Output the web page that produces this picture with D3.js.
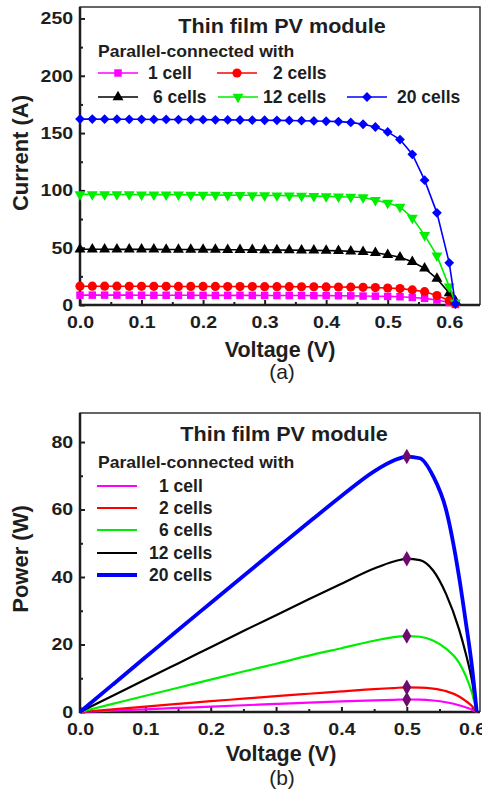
<!DOCTYPE html>
<html>
<head>
<meta charset="utf-8">
<script src="https://d3js.org/d3.v7.min.js"></script>
<style>
  html, body { margin: 0; padding: 0; background: #fff; }
  svg { display: block; font-family: "Liberation Sans", Arial, sans-serif; }
</style>
</head>
<body>
<svg width="482" height="796"></svg>
<script>
// ---- data ----
// (a) I-V curves, markers every 0.02 V
var voltA = [0.00,0.02,0.04,0.06,0.08,0.10,0.12,0.14,0.16,0.18,0.20,0.22,0.24,0.26,0.28,0.30,
             0.32,0.34,0.36,0.38,0.40,0.42,0.44,0.46,0.48,0.50,0.52,0.54,0.56,0.58,0.60,0.61];
var cur1  = [8.6,8.6,8.6,8.6,8.6,8.5,8.5,8.5,8.5,8.5,8.4,8.4,8.4,8.4,8.4,8.3,
             8.3,8.3,8.3,8.2,8.2,8.1,8.0,7.8,7.7,7.5,7.2,6.6,5.8,4.3,2.2,0.5];
var cur2  = [16.4,16.4,16.4,16.4,16.3,16.3,16.3,16.3,16.2,16.2,16.2,16.2,16.1,16.1,16.1,16.0,
             16.0,16.0,15.9,15.9,15.8,15.7,15.6,15.4,15.2,14.8,14.3,13.2,11.6,8.2,4.0,1.0];
var cur6  = [48.6,48.6,48.6,48.5,48.5,48.5,48.5,48.4,48.4,48.4,48.3,48.3,48.2,48.2,48.1,48.0,
             48.0,47.9,47.8,47.7,47.5,47.2,46.9,46.4,45.6,43.8,41.6,37.7,32.0,23.0,10.5,3.5];
var cur12 = [96.5,96.5,96.4,96.4,96.4,96.3,96.3,96.2,96.2,96.1,96.1,96.0,95.9,95.8,95.7,95.6,
             95.5,95.4,95.2,95.0,94.8,94.5,94.2,93.8,91.5,89.0,85.5,76.0,61.0,43.0,16.0,2.0];
var cur20 = [162.2,162.2,162.1,162.1,162.0,162.0,161.9,161.9,161.8,161.8,161.7,161.6,161.5,161.4,161.3,161.2,
             161.1,161.0,160.8,160.6,160.3,160.0,159.3,157.7,155.3,151.0,144.3,131.5,108.9,80.4,36.8,1.0];

// (b) P-V curves
var voltB = [0,0.05,0.10,0.15,0.20,0.25,0.30,0.35,0.40,0.45,0.48,0.50,0.52,0.54,0.56,0.58,0.59,0.60,0.607];
var pow1  = [0,0.4,0.8,1.2,1.6,2.0,2.4,2.8,3.15,3.45,3.6,3.7,3.65,3.4,2.9,2.0,1.4,0.7,0];
var pow2  = [0,0.8,1.6,2.4,3.2,3.95,4.7,5.4,6.1,6.8,7.1,7.3,7.25,6.95,6.2,4.6,3.3,1.7,0];
var pow6  = [0,2.4,4.8,7.2,9.6,12.0,14.3,16.7,18.9,21.1,22.2,22.5,22.3,21.2,18.8,14.6,10.8,5.5,0];
var pow12 = [0,4.8,9.6,14.4,19.2,24.0,28.7,33.4,38.0,42.5,44.6,45.4,45.0,42.0,35.0,24.5,17.5,9.0,0];
var pow20 = [0,8.1,16.2,24.3,32.3,40.3,48.3,56.2,64.0,71.3,74.5,75.7,75.2,70.0,60.0,40.0,27.0,13.0,0];
var mppV = 0.5;
var mppP = [3.7, 7.3, 22.5, 45.4, 75.7];

var seriesNames = ["1 cell", "2 cells", "6 cells", "12 cells", "20 cells"];
var colorsA = ["#ff00ff", "#ff0000", "#000000", "#00ee00", "#0000ff"];
var colorsB = ["#ff00ff", "#ff0000", "#00ee00", "#000000", "#0000ff"];

var xTicksA = [0, 0.1, 0.2, 0.3, 0.4, 0.5, 0.6];
var yTicksA = [0, 50, 100, 150, 200, 250];
var xTicksB = [0, 0.1, 0.2, 0.3, 0.4, 0.5, 0.6];
var yTicksB = [0, 20, 40, 60, 80];

var svg = d3.select("svg");
var ink = "#1e1e1e";

function txt(x, y, s, size, opt) {
  opt = opt || {};
  var t = svg.append("text")
    .attr("transform", "translate(" + x + "," + y + ")" + (opt.rot ? " rotate(" + opt.rot + ")" : "") + (opt.sx ? " scale(" + opt.sx + ",1)" : ""))
    .attr("font-size", size)
    .attr("font-weight", opt.normal ? "normal" : "bold")
    .attr("text-anchor", opt.anchor || "start")
    .attr("fill", ink)
    .text(s);
  return t;
}

function frame(x, y, left, right, top, bottom, xMinor, yMinor, xTicks, yTicks) {
  // minor ticks
  svg.append("g").attr("transform", "translate(0," + bottom + ")")
    .call(d3.axisBottom(x).tickValues(xMinor).tickSize(-3).tickFormat(""))
    .call(function(g) { g.select(".domain").remove(); g.selectAll("line").attr("stroke-width", 2).attr("stroke", ink); });
  svg.append("g").attr("transform", "translate(" + left + ",0)")
    .call(d3.axisLeft(y).tickValues(yMinor).tickSize(-3).tickFormat(""))
    .call(function(g) { g.select(".domain").remove(); g.selectAll("line").attr("stroke-width", 2).attr("stroke", ink); });
  // major ticks + labels
  svg.append("g").attr("transform", "translate(0," + bottom + ")")
    .call(d3.axisBottom(x).tickValues(xTicks).tickSize(-5).tickPadding(11).tickFormat(d3.format(".1f")))
    .call(function(g) {
      g.select(".domain").remove();
      g.selectAll("line").attr("stroke-width", 2).attr("stroke", ink);
      g.selectAll("text").attr("font-size", 17).attr("font-weight", "bold").attr("fill", ink)
        .attr("font-family", "Liberation Sans, Arial, sans-serif").attr("transform", "scale(1.15,1)");
    });
  svg.append("g").attr("transform", "translate(" + left + ",0)")
    .call(d3.axisLeft(y).tickValues(yTicks).tickSize(-5).tickPadding(6))
    .call(function(g) {
      g.select(".domain").remove();
      g.selectAll("line").attr("stroke-width", 2).attr("stroke", ink);
      g.selectAll("text").attr("font-size", 17).attr("font-weight", "bold").attr("fill", ink)
        .attr("font-family", "Liberation Sans, Arial, sans-serif").attr("transform", "scale(1.15,1)");
    });
  // box
  svg.append("path")
    .attr("d", "M" + left + "," + bottom + "V" + top + "H" + right + "V" + bottom)
    .attr("fill", "none").attr("stroke", "#333").attr("stroke-width", 1.5);
  svg.append("path")
    .attr("d", "M" + left + "," + top + "V" + bottom + "H" + right)
    .attr("fill", "none").attr("stroke", ink).attr("stroke-width", 2.5);
}

// ---------------- panel (a) ----------------
var xA = d3.scaleLinear().domain([0, 0.65]).range([80, 480]);
var yA = d3.scaleLinear().domain([0, 260]).range([305, 7]);
var curves = [cur1, cur2, cur6, cur12, cur20];

var markers = [
  {type: d3.symbolSquare, size: 56, rot: 0},
  {type: d3.symbolCircle, size: 66, rot: 0},
  {type: d3.symbolTriangle, size: 52, rot: 0},
  {type: d3.symbolTriangle, size: 52, rot: 180},
  {type: d3.symbolSquare, size: 48, rot: 45}
];

frame(xA, yA, 80, 480, 7, 305,
  d3.range(0.05, 0.65, 0.1), d3.range(25, 260, 50), xTicksA, yTicksA);

var lineA = d3.line().x(function(d) { return xA(d[0]); }).y(function(d) { return yA(d[1]); });

curves.forEach(function(c, k) {
  var pts = voltA.map(function(v, i) { return [v, c[i]]; });
  svg.append("path").datum(pts).attr("d", lineA)
    .attr("fill", "none").attr("stroke", colorsA[k]).attr("stroke-width", 1.6);
  var sym = d3.symbol().type(markers[k].type).size(markers[k].size);
  svg.append("g").selectAll("path").data(pts).enter().append("path")
    .attr("d", sym)
    .attr("transform", function(d) { return "translate(" + xA(d[0]) + "," + yA(d[1]) + ") rotate(" + markers[k].rot + ")"; })
    .attr("fill", colorsA[k]);
});

// legend (a)
txt(282, 33, "Thin film PV module", 20, {anchor: "middle", sx: 1.08});
txt(98, 57, "Parallel-connected with", 16, {sx: 1.1});
var legA = [
  {x: 98, y: 73, tx: 148, k: 0},
  {x: 217, y: 73, tx: 273, k: 1},
  {x: 98, y: 97, tx: 153, k: 2},
  {x: 218, y: 97, tx: 263, k: 3},
  {x: 347, y: 97, tx: 397, k: 4}
];
legA.forEach(function(l) {
  svg.append("line").attr("x1", l.x).attr("x2", l.x + 40).attr("y1", l.y).attr("y2", l.y)
    .attr("stroke", colorsA[l.k]).attr("stroke-width", 1.6);
  var sym = d3.symbol().type(markers[l.k].type).size(markers[l.k].size);
  svg.append("path").attr("d", sym)
    .attr("transform", "translate(" + (l.x + 20) + "," + l.y + ") rotate(" + markers[l.k].rot + ")")
    .attr("fill", colorsA[l.k]);
  txt(l.tx, l.y + 6, seriesNames[l.k], 17.5);
});

txt(28, 153, "Current (A)", 22, {anchor: "middle", rot: -90});
txt(280, 357, "Voltage (V)", 21.5, {anchor: "middle"});
txt(282, 379, "(a)", 21, {anchor: "middle", normal: true});

// ---------------- panel (b) ----------------
var xB = d3.scaleLinear().domain([0, 0.612]).range([80, 480]);
var yB = d3.scaleLinear().domain([0, 88.6]).range([712, 413]);
var powers = [pow1, pow2, pow6, pow12, pow20];
var widths = [2.2, 2.2, 2.2, 2.2, 3.8];

frame(xB, yB, 80, 480, 413, 712,
  d3.range(0.05, 0.612, 0.1), d3.range(10, 88, 20), xTicksB, yTicksB);

var lineB = d3.line().curve(d3.curveMonotoneX)
  .x(function(d) { return xB(d[0]); }).y(function(d) { return yB(d[1]); });

powers.forEach(function(p, k) {
  var pts = voltB.map(function(v, i) { return [v, p[i]]; });
  svg.append("path").datum(pts).attr("d", lineB)
    .attr("fill", "none").attr("stroke", colorsB[k]).attr("stroke-width", widths[k]);
});

svg.append("g").selectAll("path").data(mppP).enter().append("path")
  .attr("d", d3.symbol().type(d3.symbolDiamond).size(70))
  .attr("transform", function(d) { return "translate(" + xB(mppV) + "," + yB(d) + ")"; })
  .attr("fill", "#6e0a6e");

// legend (b)
txt(284, 441, "Thin film PV module", 20, {anchor: "middle", sx: 1.08});
txt(98, 468, "Parallel-connected with", 16, {sx: 1.1});
var legBy = [486, 508, 530, 553, 575];
var legBx = [159, 159, 159, 149, 149];
legBy.forEach(function(y, k) {
  svg.append("line").attr("x1", 97).attr("x2", 137).attr("y1", y).attr("y2", y)
    .attr("stroke", colorsB[k]).attr("stroke-width", widths[k]);
  txt(legBx[k], y + 6, seriesNames[k], 17.5);
});

txt(28, 559, "Power (W)", 22, {anchor: "middle", rot: -90});
txt(281, 761, "Voltage (V)", 21.5, {anchor: "middle"});
txt(282, 785, "(b)", 21, {anchor: "middle", normal: true});
</script>
</body>
</html>
